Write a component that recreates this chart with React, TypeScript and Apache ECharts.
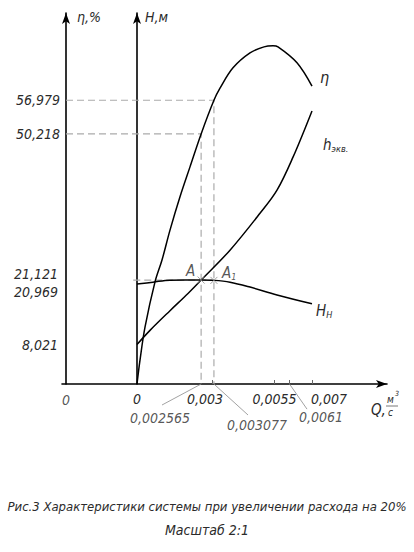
import React, { useEffect, useRef } from 'react';
import * as echarts from 'echarts';

// ---- data ----
// КПД насоса η, % vs Q, м³/с
const qEta = [0, 0.00012, 0.00032, 0.00072, 0.001, 0.00132, 0.00172, 0.00212, 0.002565, 0.003077, 0.00332, 0.00384, 0.00452, 0.00508, 0.00544, 0.00564, 0.0064, 0.007];
const etaVals = [0, 4.8, 11.4, 20.5, 24.9, 30.9, 37.6, 43.6, 50.218, 56.979, 59.4, 63.5, 66.5, 67.7, 67.9, 67.7, 64.5, 59.8];
// характеристика сети h_экв, м
const qHekv = [0, 0.00052, 0.00132, 0.00204, 0.002565, 0.00372, 0.00492, 0.0056, 0.00624, 0.007];
const hEkvVals = [8.021, 10.9, 14.9, 18.4, 21.121, 27.2, 34.7, 39.4, 46.1, 55.5];
// напор насоса H_н, м
const qHn = [0, 0.00064, 0.00132, 0.002565, 0.003077, 0.00372, 0.00452, 0.0056, 0.007];
const hNVals = [20.3, 20.7, 21.1, 21.121, 21.06, 20.7, 19.7, 18.1, 16.3];

const etaTicks = [50.218, 56.979];
const hTicks = [8.021, 20.969, 21.121];
const qTickMarks = [0.003, 0.0055, 0.0061, 0.007];
const qTickLabels = [0, 0.003, 0.0055, 0.007];

const pointA = [0.002565, 21.121];
const pointA1 = [0.003077, 21.06];
const etaAtA = 50.218;
const etaAtA1 = 56.979;
const etaAxisQ = -0.00284;

const caption = 'Рис.3 Характеристики системы при увеличении расхода на 20%';
const scaleText = 'Масштаб 2:1';

const FONT = "'DejaVu Sans Condensed', 'Liberation Sans Narrow', 'Liberation Sans', sans-serif";
const TXT = '#2b2b2b';
const FS = 14;
const base = { fontFamily: FONT, fontStyle: 'italic' as const, color: TXT };

const fmt = (v: number) => String(v).replace('.', ',');
const zip = (a: number[], b: number[]) => a.map((x, i) => [x, b[i]]);
const near = (a: number, b: number) => Math.abs(a - b) < 1e-7;

export default function App() {
  const ref = useRef<HTMLDivElement>(null);
  useEffect(() => {
    if (!ref.current) return;
    const chart = echarts.init(ref.current, undefined, { renderer: 'svg' });

    const dashed = { color: '#ababab', width: 1.2, type: [7, 4] as any };
    const guide = (pts: number[][], yIdx: number) => ({
      type: 'line', yAxisIndex: yIdx, data: pts, symbol: 'none', silent: true,
      lineStyle: dashed, z: 1,
    });
    const leader = (pts: number[][]) => ({
      type: 'line', yAxisIndex: 1, data: pts, symbol: 'none', silent: true, clip: false,
      lineStyle: { color: '#8a8a8a', width: 0.8 }, z: 1,
    });
    const sub = {
      m: { ...base, fontSize: 15 },
      s: { ...base, fontSize: 9, padding: [8, 0, 0, 0] },
    };

    chart.setOption({
      animation: false,
      backgroundColor: '#fff',
      title: [
        { text: caption, left: 'center', top: 495, textStyle: { ...base, fontSize: 13, fontWeight: 'normal' } },
        { text: scaleText, left: 'center', top: 518, textStyle: { ...base, fontSize: 14, fontWeight: 'normal' } },
      ],
      grid: { left: 62, top: 13, width: 325, height: 371, containLabel: false, outerBoundsMode: 'none' },
      xAxis: {
        type: 'value', min: -0.003, max: 0.01,
        axisLine: { onZero: false, symbol: ['none', 'arrow'], symbolSize: [6, 11], lineStyle: { color: '#000', width: 1.6 } },
        splitLine: { show: false },
        axisTick: { show: true, customValues: qTickMarks, inside: true, length: 4, lineStyle: { color: '#666', width: 1 } },
        axisLabel: {
          customValues: qTickLabels, margin: 8, ...base, fontSize: FS,
          formatter: (v: number) => near(v, 0.003) ? '{l|0,003}' : near(v, 0.007) ? '{r|0,007}' : '{n|' + fmt(v) + '}',
          rich: {
            n: { ...base, fontSize: FS },
            l: { ...base, fontSize: FS, padding: [0, 14, 0, 0] },
            r: { ...base, fontSize: FS, padding: [0, 0, 0, 34] },
          },
        },
      },
      yAxis: [
        {
          type: 'value', min: 0, max: 74.5, position: 'left', offset: -4,
          name: 'η,%', nameLocation: 'end', nameGap: -4,
          nameTextStyle: { ...base, fontSize: FS, align: 'left', verticalAlign: 'middle', padding: [0, 0, 0, 11] },
          axisLine: { show: true, onZero: false, symbol: ['none', 'arrow'], symbolSize: [6, 11], lineStyle: { color: '#000', width: 1.6 } },
          axisTick: { show: false }, splitLine: { show: false },
          axisLabel: { customValues: etaTicks, margin: 6, ...base, fontSize: FS, formatter: (v: number) => fmt(v) },
        },
        {
          type: 'value', min: 0, max: 75.4, position: 'left',
          name: 'Н,м', nameLocation: 'end', nameGap: -4,
          nameTextStyle: { ...base, fontSize: FS, align: 'left', verticalAlign: 'middle', padding: [0, 0, 0, 8] },
          axisLine: { show: true, onZero: true, symbol: ['none', 'arrow'], symbolSize: [6, 11], lineStyle: { color: '#000', width: 1.6 } },
          axisTick: { show: false }, splitLine: { show: false },
          axisLabel: {
            customValues: hTicks, margin: 4, ...base, fontSize: FS,
            formatter: (v: number) => near(v, 21.121) ? '{u|21,121}' : near(v, 20.969) ? '{d|20,969}' : '{n|' + fmt(v) + '}',
            rich: {
              n: { ...base, fontSize: FS },
              u: { ...base, fontSize: FS, padding: [0, 0, 12, 0] },
              d: { ...base, fontSize: FS, padding: [22, 0, 0, 0] },
            },
          },
        },
      ],
      graphic: [
        { type: 'text', x: 371, y: 402, style: { text: 'Q,', fill: TXT, font: `italic 15px ${FONT}` } },
        { type: 'text', x: 387, y: 394, style: { text: 'м', fill: TXT, font: `italic 10px ${FONT}` } },
        { type: 'text', x: 395, y: 390, style: { text: '3', fill: TXT, font: `italic 7px ${FONT}` } },
        { type: 'line', shape: { x1: 386, y1: 406, x2: 398, y2: 406 }, style: { stroke: '#555', lineWidth: 0.8 } },
        { type: 'text', x: 388, y: 407, style: { text: 'с', fill: TXT, font: `italic 10px ${FONT}` } },
      ],
      series: [
        guide([[etaAxisQ, etaAtA1], [pointA1[0], etaAtA1], [pointA1[0], 0]], 0),
        guide([[etaAxisQ, etaAtA], [pointA[0], etaAtA], [pointA[0], 0]], 0),
        guide([[-0.00015, pointA[1]], [pointA1[0], pointA[1]]], 1),
        leader([[pointA[0], 0], [0.001, -4.27]]),
        leader([[pointA1[0], 0], [0.00444, -6.3]]),
        leader([[0.0061, 0], [0.0068, -5.1]]),
        {
          type: 'line', yAxisIndex: 0, data: zip(qEta, etaVals), smooth: 0.35, symbol: 'none',
          lineStyle: { color: '#000', width: 1.5 }, z: 3,
          endLabel: { show: true, formatter: 'η', ...base, fontSize: 16, offset: [0, -9] },
        },
        {
          type: 'line', yAxisIndex: 1, data: zip(qHekv, hEkvVals), smooth: 0.35, symbol: 'none',
          lineStyle: { color: '#000', width: 1.5 }, z: 3,
          endLabel: { show: true, formatter: '{m|h}{s|экв.}', rich: sub, offset: [3, 34] },
        },
        {
          type: 'line', yAxisIndex: 1, data: zip(qHn, hNVals), smooth: 0.35, symbol: 'none',
          lineStyle: { color: '#000', width: 1.5 }, z: 3,
          endLabel: { show: true, formatter: '{m|H}{s|Н}', rich: sub, offset: [-4, 7] },
        },
        {
          type: 'scatter', yAxisIndex: 1, symbol: 'path://M0,0L10,10M10,0L0,10', symbolSize: 7,
          itemStyle: { color: 'rgba(0,0,0,0)', borderColor: '#888', borderWidth: 1 }, z: 4, silent: true,
          data: [
            { value: pointA, label: { show: true, position: 'left', distance: 2, offset: [0, -9], formatter: 'A', ...base, fontSize: 15 } },
            { value: pointA1, label: { show: true, position: 'right', distance: 4, offset: [0, -7], formatter: '{m|A}{s|1}', rich: sub } },
          ],
        },
        {
          type: 'scatter', yAxisIndex: 1, symbolSize: 0, clip: false, silent: true, z: 4,
          label: { show: true, position: 'inside', ...base, fontSize: FS, formatter: (p: any) => p.data.name },
          data: [
            { name: '0', value: [etaAxisQ, -3.25] },
            { name: fmt(pointA[0]), value: [0.00092, -6.9] },
            { name: fmt(pointA1[0]), value: [0.0048, -8.3] },
            { name: fmt(0.0061), value: [0.00736, -6.7] },
          ],
        },
      ],
    });
    return () => chart.dispose();
  }, []);
  return <div ref={ref} style={{ position: 'fixed', left: 0, top: 0, width: 414, height: 552, background: '#fff' }} />;
}
